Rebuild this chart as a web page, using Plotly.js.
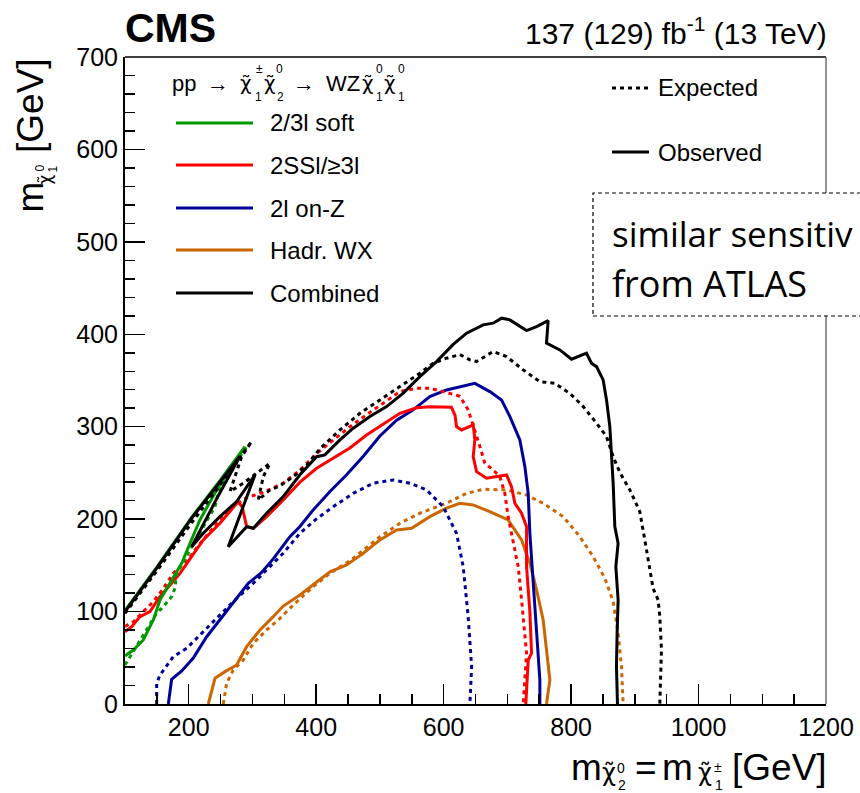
<!DOCTYPE html>
<html>
<head>
<meta charset="utf-8">
<script src="https://cdn.plot.ly/plotly-3.0.1.min.js"></script>
<style>html,body{margin:0;padding:0;background:#fff;overflow:hidden}#chart{width:860px;height:793px}</style>
</head>
<body>
<div id="chart"></div>
<script>
// ---- data (GeV) ----
const softObsX = [100, 113, 128.7, 144.4, 154.9, 165.4, 175.8, 189, 202, 217.6, 243.8, 264.7, 280.4, 288.2, 245, 204.6, 150, 100];
const softObsY = [52, 58.4, 69.3, 90.9, 112.6, 125.2, 137.8, 152.3, 173.9, 199.1, 231.6, 253.2, 269.5, 278.5, 238, 202, 148, 101];
const softExpX = [100, 107.8, 120, 136.6, 149.7, 160.1, 173.2, 178.4, 181.1, 202, 222.8, 241.2, 249, 269.9, 290.9, 245, 204.6, 150, 100];
const softExpY = [42.2, 51.2, 65, 83.7, 98.2, 105.3, 116.1, 125.2, 141.4, 166.7, 191.9, 213.5, 235.2, 256.8, 278.5, 237, 201, 147, 99];

const sslObsX = [100, 110.5, 123.5, 139.2, 154.9, 170.6, 186.3, 202, 222.8, 249, 269.9, 277.8, 284, 290.9, 301.3, 322.2, 348.3, 374.5, 400.7, 426.8, 452.9, 479, 505.2, 531.4, 557.5, 578.4, 612.3, 618, 620.2, 628.1, 646.4, 649, 646.4, 651.7, 667.4, 683, 698.7, 706.5, 711.8, 722.3, 730.1, 730.1, 735.3, 738, 732.7, 729];
const sslObsY = [78.2, 83.7, 94.5, 99.9, 116.1, 128.8, 141.4, 157, 177.5, 195.6, 211.8, 219, 213, 192, 190.1, 202.7, 220.8, 240, 255, 266, 277, 291, 303, 314.5, 320.5, 321.5, 321, 312, 300.1, 296.5, 302, 286, 267.6, 251.4, 244.3, 246, 247.8, 235.2, 217.2, 206.4, 191.9, 148.6, 100, 54.9, 47.6, 0];
const sslExpX = [100, 113, 128.7, 144.4, 160.1, 175.8, 196.8, 222.8, 249, 270, 290, 317, 348.3, 374.5, 400.7, 426.8, 452.9, 479, 505.2, 531.4, 557.5, 578.4, 599.3, 625.5, 638.5, 649, 656.9, 664.7, 677.7, 688.2, 696, 701.2, 709.1, 717, 722.3, 727.5, 730.1, 724.8];
const sslExpY = [84, 89, 100, 110.7, 125, 141.4, 155, 178, 199, 214, 223, 229, 239, 253, 271, 286, 300, 313, 325.4, 338, 341.6, 341.6, 338, 333, 318.2, 296.5, 278.5, 260.5, 253.2, 246, 228, 202.7, 173.9, 148.6, 112.6, 76.5, 54.9, 0];

const onzObsX = [168, 170.6, 173.2, 189, 207.1, 228.2, 249, 269.9, 293.4, 314, 332.6, 358.8, 374.5, 395.4, 421.6, 447.8, 473.9, 500, 526.2, 552.3, 578.4, 604.5, 625.5, 649, 672.5, 690.9, 704, 719.6, 727.5, 732.7, 735.3, 740.5, 745.8, 751, 751];
const onzObsY = [0, 16, 26.8, 35.8, 49.8, 72.8, 90.9, 108.9, 130.6, 142, 157, 181, 192, 210, 230, 248, 268, 290, 307, 318.2, 332.6, 339.8, 343.4, 346.9, 338, 329, 311, 285.7, 256.8, 227.9, 184.7, 130.6, 76.5, 26, 0];
const onzExpX = [149.7, 149.7, 154.9, 175.8, 196.8, 228.2, 249, 269.9, 301.3, 324, 348.3, 374.5, 400, 426.8, 458.1, 489.5, 520.9, 547, 573.2, 599.3, 620.2, 630.7, 638.5, 643.9, 641.2];
const onzExpY = [0, 22.4, 31.4, 51.2, 60.3, 81.9, 96.3, 110.7, 130.6, 146, 163.1, 184.7, 200, 213.5, 227.9, 238.9, 242.4, 238.9, 231.6, 213.5, 184.7, 148.6, 94.5, 40.4, 0];

const wxObsX = [230.7, 241.2, 256.9, 275.2, 290.9, 311.8, 332.6, 348.3, 374.5, 400.7, 421.6, 447.8, 473.9, 500, 526.2, 549.7, 578.4, 604.5, 625.5, 646.4, 672.5, 701.2, 722.3, 735.3, 745.8, 756.2, 766.7, 761.4];
const wxObsY = [0, 27.8, 35, 42.2, 62, 80.1, 94.5, 106, 118, 131.5, 143, 150.4, 163.1, 177.5, 188.3, 190.1, 202.7, 212, 217.2, 215.4, 208.1, 199.1, 177.5, 152.3, 123.4, 90.9, 26, 0];
const wxExpX = [254.2, 259.5, 269.9, 285.6, 301.3, 322.2, 343.1, 364, 395.4, 421.6, 453, 500, 531.4, 562.7, 604.5, 635.9, 662, 698.7, 730.1, 756.2, 787.6, 813.7, 834.6, 853, 866, 873.8, 879.1, 881.7];
const wxExpY = [0, 22.4, 36.8, 47.6, 65.7, 80.1, 92.7, 107.1, 126.9, 141.4, 155, 181, 195.6, 206.4, 217.2, 227.9, 232.3, 231.6, 226.1, 217.2, 202.7, 181.1, 159.4, 136, 111, 76.5, 40.4, 0];

const combObsX = [100, 150, 204.6, 245, 280.4, 243.8, 204.6, 222.8, 249, 275.2, 303.9, 262, 290.9, 301.3, 322.2, 348.3, 374.5, 400.7, 413.7, 437.3, 458.1, 484.3, 510.5, 536.6, 562.7, 588.9, 615, 636, 662, 677.7, 690.9, 704, 717, 730.1, 745.8, 764, 761.4, 782.4, 800.7, 824.2, 832, 839.9, 850.3, 855.6, 860.8, 863.4, 866, 868.6, 873.8, 870.2, 873.8, 872.2, 871.2, 872.8];
const combObsY = [100, 147, 201, 237, 268, 222, 170.2, 184.7, 202.7, 219, 247.8, 170.2, 191.9, 190.1, 206.4, 224.4, 248, 267.6, 269.5, 285.7, 298.4, 311, 321.8, 336.3, 354.2, 370.5, 389, 401.2, 410.2, 412, 417.4, 415.6, 410.2, 404, 408.3, 414.8, 390.4, 383.1, 373, 379.5, 368.7, 365, 350.6, 329, 300.1, 274.9, 238.9, 191.9, 173.9, 148.6, 112.6, 76.5, 40.4, 0];
const combExpX = [100, 150, 204.6, 245, 275, 298.7, 283, 272.5, 264.7, 285.6, 306.5, 327.5, 317, 309.1, 327.5, 343.1, 364, 385, 405.9, 437.3, 468.6, 500, 531.4, 562.7, 583.6, 604.5, 625.5, 641.2, 651.7, 677.7, 698.7, 724.8, 751, 774.5, 798.1, 819, 839.9, 855.6, 866, 876.5, 892.2, 907.8, 915.7, 923.5, 928.7, 936.6, 939.2, 941.8, 939.2];
const combExpY = [98, 144, 196, 233, 262, 284, 267.6, 246, 229.8, 238.9, 249.6, 260.5, 246, 220.8, 231.6, 236, 246, 258, 276, 296.5, 314.5, 329, 343.4, 357.9, 368.7, 374.1, 378, 372.3, 370.5, 381.3, 375.9, 361.5, 348.8, 346.9, 336.1, 321.8, 303.8, 289.3, 267.6, 250.5, 231.6, 208.1, 177.5, 148.6, 125, 112.6, 94.5, 58.4, 0];

const legendLabels = ["2/3l soft", "2SSl/≥3l", "2l on-Z", "Hadr. WX", "Combined"];
const styleLabels = ["Expected", "Observed"];
const xTickVals = [200, 400, 600, 800, 1000, 1200];
const yTickVals = [0, 100, 200, 300, 400, 500, 600, 700];

// ---- styling ----
const GREEN = "rgb(0,153,0)", RED = "rgb(255,0,0)", BLUE = "rgb(0,0,153)", ORANGE = "rgb(204,102,0)", BLACK = "rgb(0,0,0)";
const colors = [GREEN, RED, BLUE, ORANGE, BLACK];
const LW = 3;
const DOT = "4px,4px";
const FONT = "Liberation Sans, Arial, Helvetica, sans-serif";
const GREEK = "DejaVu Sans, sans-serif";
const CHI = "χ\u0303";

function tr(x, y, color, dotted) {
  return {x: x, y: y, type: "scatter", mode: "lines", hoverinfo: "skip", showlegend: false,
          line: {color: color, width: LW, dash: dotted ? DOT : "solid"}};
}
const traces = [
  tr(wxExpX, wxExpY, ORANGE, true), tr(wxObsX, wxObsY, ORANGE, false),
  tr(onzExpX, onzExpY, BLUE, true), tr(onzObsX, onzObsY, BLUE, false),
  tr(sslExpX, sslExpY, RED, true), tr(sslObsX, sslObsY, RED, false),
  tr(softExpX, softExpY, GREEN, true), tr(softObsX, softObsY, GREEN, false),
  tr(combExpX, combExpY, BLACK, true), tr(combObsX, combObsY, BLACK, false)
];

// pixel -> paper helpers for legend/decoration placement
const L = 125, R = 826, T = 57, B = 704;
const px = v => (v - L) / (R - L);
const py = v => (B - v) / (B - T);

const shapes = [
  {type: "line", xref: "paper", yref: "paper", x0: 0, x1: 1, y0: 1, y1: 1, line: {color: "black", width: 1.5}},
  {type: "line", xref: "paper", yref: "paper", x0: 1, x1: 1, y0: 0, y1: 1, line: {color: "rgb(110,110,110)", width: 1.5}}
];
const annotations = [];
function txt(text, cx, cy, size, opt) {
  opt = opt || {};
  annotations.push({xref: "paper", yref: "paper", x: px(cx), y: py(cy),
    xanchor: opt.xa || "center", yanchor: opt.ya || "middle", textangle: opt.angle || 0,
    text: text, showarrow: false, borderpad: 0,
    font: {family: opt.family || FONT, size: size, color: "black"}});
}

const legY = [123, 165, 208, 250, 293];
legendLabels.forEach((lab, i) => {
  shapes.push({type: "line", xref: "paper", yref: "paper", x0: px(176), x1: px(253), y0: py(legY[i]), y1: py(legY[i]),
               line: {color: colors[i], width: LW}});
  txt(lab, 269, legY[i], 24, {xa: "left"});
});
const styY = [88, 152];
styleLabels.forEach((lab, i) => {
  shapes.push({type: "line", xref: "paper", yref: "paper", x0: px(612), x1: px(649), y0: py(styY[i]), y1: py(styY[i]),
               line: {color: "black", width: LW, dash: i === 0 ? DOT : "solid"}});
  txt(lab, 657, styY[i], 24, {xa: "left"});
});
// ATLAS box
shapes.push({type: "rect", xref: "paper", yref: "paper", layer: "above", x0: px(593), x1: px(900), y0: py(316), y1: py(193),
             fillcolor: "white", line: {color: "black", width: 1.2, dash: "4px,3px"}});
txt("similar sensitiv", 611, 233, 35, {xa: "left", family: "Open Sans, sans-serif"});
txt("from ATLAS", 611, 283, 36, {xa: "left", family: "Open Sans, sans-serif"});

// header: pp -> chi1+- chi2^0 -> WZ chi1^0 chi1^0
txt("pp", 183.5, 83, 22);
txt("→", 217.5, 83, 22);
txt(CHI, 245.5, 82.5, 20, {family: GREEK});
txt("±", 259, 69, 12); txt("1", 258.5, 97, 12);
txt(CHI, 270, 82.5, 20, {family: GREEK});
txt("0", 279.5, 69, 12); txt("2", 280, 97, 12);
txt("→", 304, 83, 22);
txt("WZ", 342.5, 83, 22);
txt(CHI, 367.5, 82.5, 20, {family: GREEK});
txt("0", 379, 69, 12); txt("1", 379, 97, 12);
txt(CHI, 390, 82.5, 20, {family: GREEK});
txt("0", 401.5, 69, 12); txt("1", 401.5, 97, 12);

// top labels
txt("<b>CMS</b>", 124, 28, 41, {xa: "left"});
txt("137 (129) fb<sup>-1</sup> (13 TeV)", 828, 31, 30, {xa: "right"});

// x-axis title: m_{chi2^0} = m_{chi1^+-} [GeV]
txt("m", 586, 767, 37);
txt(CHI, 609, 773, 24, {family: GREEK});
txt("0", 620.5, 768, 14); txt("2", 621.5, 785, 14);
txt("=", 646, 767, 37);
txt("m", 677.5, 767, 37);
txt(CHI, 705, 773, 24, {family: GREEK});
txt("±", 718, 767, 14); txt("1", 718.5, 785, 14);
txt("[GeV]", 828, 767, 37, {xa: "right"});

// y-axis title (rotated): m_{chi1^0} [GeV]
txt("m", 30.5, 197, 37, {angle: -90});
txt(CHI, 44.5, 180, 17, {angle: -90, family: GREEK});
txt("0", 40, 168.5, 12, {angle: -90});
txt("1", 52.5, 169, 12, {angle: -90});
txt("[GeV]", 30.5, 57, 37, {angle: -90, ya: "top"});

const layout = {
  width: 860, height: 793,
  margin: {l: L, r: 860 - R, t: T, b: 793 - B, pad: 0},
  paper_bgcolor: "white", plot_bgcolor: "white",
  showlegend: false, hovermode: false,
  font: {family: FONT, size: 25, color: "black"},
  xaxis: {range: [100, 1200], tickmode: "array", tickvals: xTickVals, ticktext: xTickVals.map(String),
          ticks: "inside", ticklen: 20, tickwidth: 1.5, tickcolor: "black",
          minor: {dtick: 50, tick0: 0, ticks: "inside", ticklen: 10, tickwidth: 1.5, tickcolor: "black", showgrid: false},
          showline: true, linecolor: "black", linewidth: 2, showgrid: false, zeroline: false,
          tickfont: {family: FONT, size: 25, color: "black"}, fixedrange: true},
  yaxis: {range: [0, 700], tickmode: "array", tickvals: yTickVals, ticktext: yTickVals.map(String),
          ticks: "inside", ticklen: 20, tickwidth: 1.5, tickcolor: "black",
          minor: {dtick: 20, tick0: 0, ticks: "inside", ticklen: 10, tickwidth: 1.5, tickcolor: "black", showgrid: false},
          showline: true, linecolor: "black", linewidth: 2, showgrid: false, zeroline: false,
          tickfont: {family: FONT, size: 25, color: "black"}, fixedrange: true},
  shapes: shapes,
  annotations: annotations
};
Plotly.newPlot("chart", traces, layout, {staticPlot: true, displayModeBar: false});
</script>
</body>
</html>
